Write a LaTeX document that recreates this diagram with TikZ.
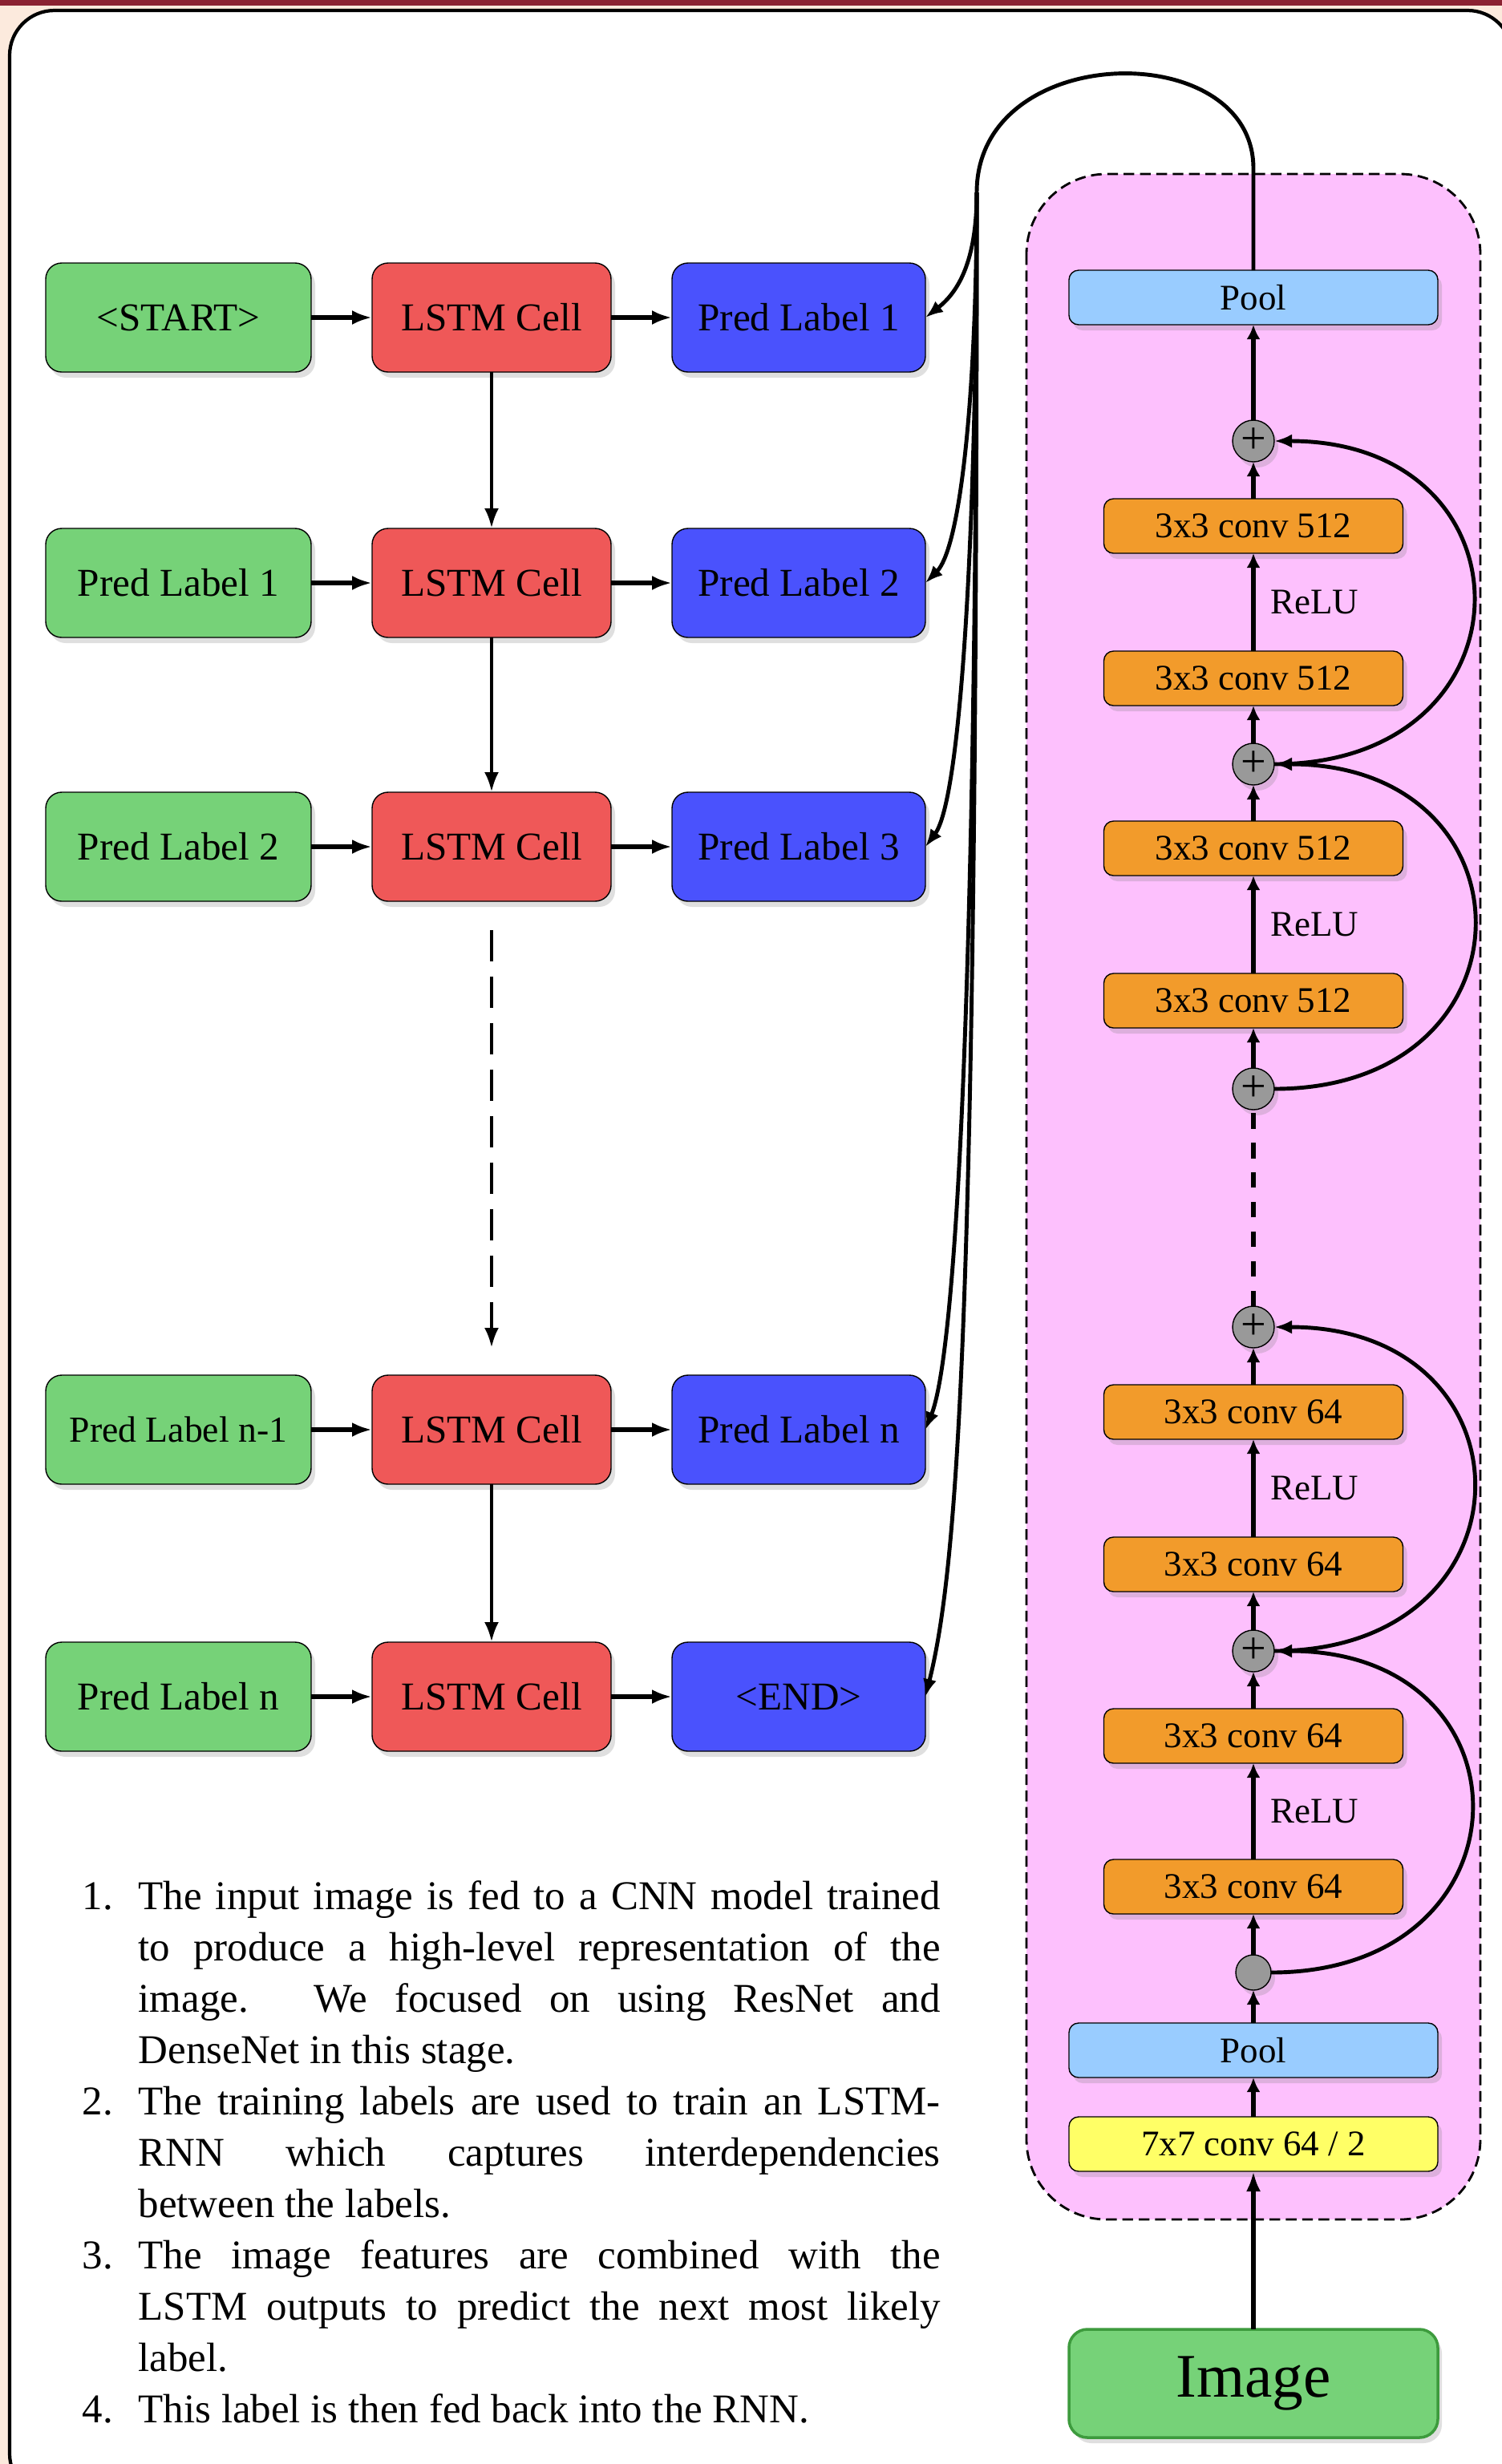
\documentclass[tikz,border=0pt]{standalone}
\usepackage{fontspec}
\setmainfont{Liberation Serif}
\usepackage{tikz}
\usetikzlibrary{arrows.meta,positioning,shadows}
\usepackage{xcolor}

\definecolor{framebar}{HTML}{8B2232}
\definecolor{framebg}{HTML}{FCEADD}
\definecolor{startgreen}{HTML}{76D278}
\definecolor{imgborder}{HTML}{3D9B3D}
\definecolor{lstmred}{HTML}{EF5858}
\definecolor{predblue}{HTML}{4A52FD}
\definecolor{resnetpink}{HTML}{FDC0FD}
\definecolor{poolblue}{HTML}{99CCFF}
\definecolor{convorange}{HTML}{F29B2B}
\definecolor{convyellow}{HTML}{FFFF66}
\definecolor{addgray}{HTML}{999999}

\newcommand{\numitem}[1]{\par\noindent\hangindent=7mm\hangafter=1\makebox[7mm][l]{#1}}

\begin{document}
\begin{tikzpicture}[
    node distance=1.95cm and 0.76cm,
    softshadow/.style={drop shadow={opacity=0.25, shadow xshift=0.5mm, shadow yshift=-0.7mm}},
    labelbox/.style={draw, outer sep=0pt, rounded corners=2mm, align=center, minimum height=1.36cm, font=\fontsize{14}{16}\selectfont, softshadow},
    inbox/.style={labelbox, fill=startgreen, minimum width=3.31cm},
    cell/.style={labelbox, fill=lstmred, minimum width=2.98cm},
    pred/.style={labelbox, fill=predblue, minimum width=3.16cm},
    layer/.style={draw, outer sep=0pt, rounded corners=1.2mm, minimum height=0.68cm, inner sep=0pt, font=\fontsize{12.8}{14}\selectfont, softshadow},
    conv/.style={layer, fill=convorange, minimum width=3.73cm},
    pool/.style={layer, fill=poolblue, minimum width=4.6cm},
    add/.style={circle, draw, outer sep=0pt, fill=addgray, minimum size=0.52cm, inner sep=0pt, font=\fontsize{16}{16}\selectfont, softshadow},
    arrow/.style={-{Latex[length=2.5mm, width=1.8mm]}, line width=1.5pt},
    link/.style={-{Latex[length=1.8mm, width=1.7mm]}, line width=1.5pt},
    fan/.style={-{Latex[length=2.2mm, width=1.7mm]}, line width=1.4pt},
    relu/.style={right=0.7mm, font=\fontsize{12.8}{14}\selectfont}
]
% frame
\useasboundingbox (0,0) rectangle (18.73,-30.73);
\fill[framebg] (0,0) rectangle (18.73,-30.73);
\fill[framebar] (0,0) rectangle (18.73,-0.07);
\draw[line width=1.2pt, fill=white, rounded corners=0.56cm] (0.12,-0.13) rectangle (18.86,-31.16);

% resnet background
\draw[fill=resnetpink, line width=0.8pt, dash pattern=on 3.8pt off 2pt, rounded corners=1cm] (12.80,-2.17) rectangle (18.46,-27.68);

% lstm grid
\node[inbox] (in1) at (2.225,-3.96) {<START>};
\node[cell, right=of in1] (cell1) {LSTM Cell};
\node[pred, right=of cell1] (pred1) {Pred Label 1};

\node[inbox, below=of in1] (in2) {Pred Label 1};
\node[cell, right=of in2] (cell2) {LSTM Cell};
\node[pred, right=of cell2] (pred2) {Pred Label 2};

\node[inbox, below=1.93cm of in2] (in3) {Pred Label 2};
\node[cell, right=of in3] (cell3) {LSTM Cell};
\node[pred, right=of cell3] (pred3) {Pred Label 3};

\node[inbox, below=5.91cm of in3, font=\fontsize{13}{15}\selectfont] (in4) {Pred Label n-1};
\node[cell, right=of in4] (cell4) {LSTM Cell};
\node[pred, right=of cell4] (pred4) {Pred Label n};

\node[inbox, below=1.97cm of in4] (in5) {Pred Label n};
\node[cell, right=of in5] (cell5) {LSTM Cell};
\node[pred, right=of cell5] (pred5) {<END>};

\draw[arrow] (in1) -- (cell1);
\draw[arrow] (cell1) -- (pred1);
\draw[arrow] (in2) -- (cell2);
\draw[arrow] (cell2) -- (pred2);
\draw[arrow] (in3) -- (cell3);
\draw[arrow] (cell3) -- (pred3);
\draw[arrow] (in4) -- (cell4);
\draw[arrow] (cell4) -- (pred4);
\draw[arrow] (in5) -- (cell5);
\draw[arrow] (cell5) -- (pred5);

\draw[arrow, line width=1.3pt] (cell1) -- (cell2);
\draw[arrow, line width=1.3pt] (cell2) -- (cell3);
\draw[arrow, line width=1.3pt, dash pattern=on 11pt off 5.5pt, shorten <=3.6mm, shorten >=3.4mm] (cell3) -- (cell4);
\draw[arrow, line width=1.3pt] (cell4) -- (cell5);

% resnet column
\node[pool] (pool1) at (15.63,-3.71) {Pool};
\node[add, below=1.19cm of pool1] (add1) {+};
\node[conv, below=0.46cm of add1] (conv1) {3x3 conv 512};
\node[conv, below=1.22cm of conv1] (conv2) {3x3 conv 512};
\node[add, below=0.47cm of conv2] (add2) {+};
\node[conv, below=0.45cm of add2] (conv3) {3x3 conv 512};
\node[conv, below=1.22cm of conv3] (conv4) {3x3 conv 512};
\node[add, below=0.5cm of conv4] (add3) {+};
\node[add, below=2.45cm of add3] (add4) {+};
\node[conv, below=0.46cm of add4] (conv5) {3x3 conv 64};
\node[conv, below=1.22cm of conv5] (conv6) {3x3 conv 64};
\node[add, below=0.48cm of conv6] (add5) {+};
\node[conv, below=0.46cm of add5] (conv7) {3x3 conv 64};
\node[conv, below=1.2cm of conv7] (conv8) {3x3 conv 64};
\node[add, minimum size=0.44cm, below=0.51cm of conv8] (split) {};
\node[pool, below=0.41cm of split] (pool2) {Pool};
\node[layer, fill=convyellow, minimum width=4.6cm, below=0.49cm of pool2] (stem) {7x7 conv 64 / 2};
\node[draw=imgborder, line width=1pt, outer sep=0pt, fill=startgreen, rounded corners=2.3mm, minimum width=4.6cm, minimum height=1.35cm, font=\fontsize{22}{24}\selectfont, softshadow, below=1.97cm of stem] (image) {Image};

\draw[arrow, line width=1.6pt] (image) -- (stem);
\draw[link] (stem) -- (pool2);
\draw[link] (pool2) -- (split);
\draw[link] (split) -- (conv8);
\draw[link] (conv8) -- node[relu] {ReLU} (conv7);
\draw[link] (conv7) -- (add5);
\draw[link] (add5) -- (conv6);
\draw[link] (conv6) -- node[relu] {ReLU} (conv5);
\draw[link] (conv5) -- (add4);
\draw[line width=1.6pt, dash pattern=on 5.5pt off 5pt] (add4) -- (add3);
\draw[link] (add3) -- (conv4);
\draw[link] (conv4) -- node[relu] {ReLU} (conv3);
\draw[link] (conv3) -- (add2);
\draw[link] (add2) -- (conv2);
\draw[link] (conv2) -- node[relu] {ReLU} (conv1);
\draw[link] (conv1) -- (add1);
\draw[link] (add1) -- (pool1);

% skip connections
\draw[fan] (add2.east) to[out=0, in=0, looseness=2.1] (add1.east);
\draw[fan] (add3.east) to[out=0, in=0, looseness=2.1] (add2.east);
\draw[fan] (add5.east) to[out=0, in=0, looseness=2.1] (add4.east);
\draw[fan] (split.east) to[out=0, in=0, looseness=2.1] (add5.east);

% features back to the predictions
\coordinate (archR) at (15.63,-2.10);
\coordinate (archL) at (12.18,-2.40);
\draw[line width=1.4pt] (pool1.north) -- (archR) .. controls (15.63,-0.45) and (12.18,-0.50) .. (archL);
\draw[fan] (archL) .. controls +(0,-0.78) and +(0.45,0.35) .. (pred1.east);
\draw[fan] (archL) .. controls +(0,-2.4) and +(0.45,0.45) .. (pred2.east);
\draw[fan] (archL) .. controls +(0,-4.1) and +(0.45,0.6) .. (pred3.east);
\draw[fan] (archL) .. controls +(0,-9.5) and +(0.4,1.0) .. (pred4.east);
\draw[fan] (archL) .. controls +(0,-14) and +(0.4,1.6) .. (pred5.east);

% notes
\node[anchor=base west, text width=10.7cm, align=justify, inner sep=0pt, font=\fontsize{14.5}{18.2}\selectfont] (notes) at (1.02,-23.18) {\tolerance=10000\hbadness=10000
\numitem{1.}The input image is fed to a CNN model trained\linebreak to produce a high-level representation of the\linebreak image. We focused on using ResNet and\linebreak DenseNet in this stage.
\numitem{2.}The training labels are used to train an LSTM-\linebreak RNN which captures interdependencies\linebreak between the labels.
\numitem{3.}The image features are combined with the\linebreak LSTM outputs to predict the next most likely\linebreak label.
\numitem{4.}This label is then fed back into the RNN.\par};
\end{tikzpicture}
\end{document}
